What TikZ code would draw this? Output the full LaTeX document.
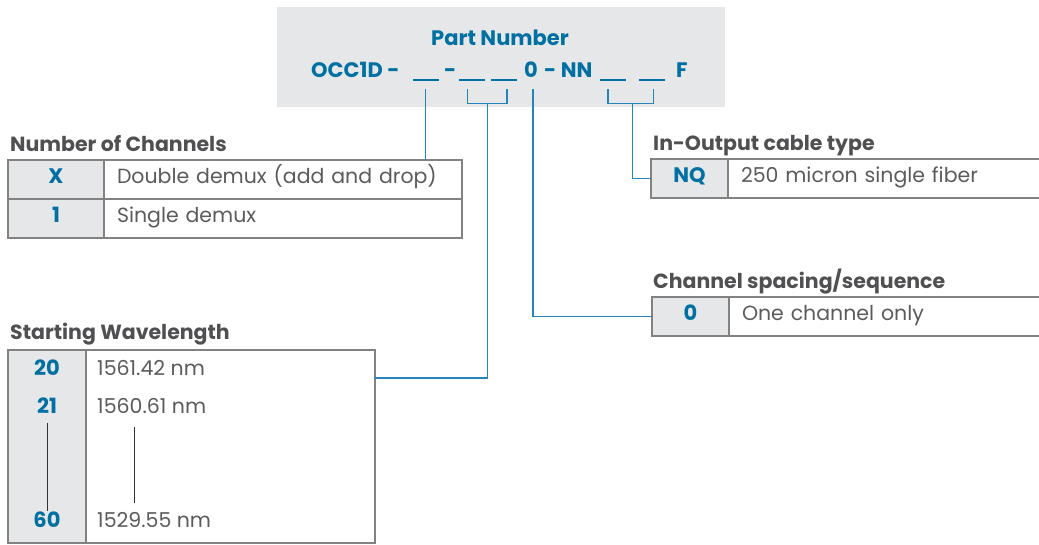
\documentclass[tikz,border=0pt]{standalone}
\usepackage{fontspec}
\setmainfont{Poppins}
\usetikzlibrary{positioning,calc}
\definecolor{pnblue}{RGB}{0,112,163}
\definecolor{linkblue}{RGB}{37,132,187}
\definecolor{txtgray}{RGB}{90,91,93}
\definecolor{headgray}{RGB}{80,80,82}
\definecolor{cellline}{RGB}{130,130,130}
\definecolor{keyfill}{RGB}{230,231,232}

\tikzset{
  head/.style={anchor=base west, inner sep=0, font=\fontsize{20.5}{24}\selectfont\bfseries, text=headgray},
  keycell/.style={draw=cellline, fill=keyfill, line width=1.2, minimum height=39, inner sep=0, outer sep=0,
    text height=0.85em, text depth=0pt, font=\fontsize{21}{24}\selectfont\bfseries, text=pnblue},
  desccell/.style={draw=cellline, line width=1.2, minimum height=39, inner xsep=13, inner ysep=0, outer sep=0,
    text height=0.88em, text depth=0pt, align=left, font=\fontsize{20.5}{24}\selectfont, text=txtgray},
  keytxt/.style={inner xsep=2, inner ysep=8.8, text height=0.78em, text depth=0pt, font=\fontsize{21}{24}\selectfont\bfseries, text=pnblue},
  valtxt/.style={anchor=west, inner sep=0, text height=0.78em, text depth=0pt, font=\fontsize{20.5}{24}\selectfont, text=txtgray},
  blank/.style={fill=pnblue, minimum width=26, minimum height=2.4, inner sep=0, outer sep=0},
  pn/.style={anchor=base west, inner sep=0, font=\fontsize{21}{25}\selectfont\bfseries, text=pnblue},
  conn/.style={draw=linkblue, line width=1.3},
  rule/.style={draw=black!80, line width=0.9},
}

\begin{document}
\begin{tikzpicture}[x=1pt, y=-1pt]
\useasboundingbox (0,0) rectangle (1039,544);

% part number
\fill[keyfill] (277,7) rectangle (725,107);
\node[pn, anchor=base] (pnt) at (500,45) {Part Number};
\node[pn] (occ) at (311,77) {OCC1D -};
\node[blank] (b1) at (425.5,80) {};
\node[pn] (dash) at (444,77) {-};
\node[blank] (b2) at (471.5,80) {};
\node[blank] (b3) at (504,80) {};
\node[pn] (n0) at (524,77) {0};
\node[pn] (nn) at (544,77) {- NN};
\node[blank] (b4) at (613,80) {};
\node[blank] (b5) at (651.5,80) {};
\node[pn] (ff) at (676,77) {F};

% number of channels
\node[head] (hnc) at (10,151) {Number of Channels};
\node[keycell, anchor=north west, minimum width=96] (kx) at (8,160) {X};
\node[desccell, right=0pt of kx, text width=332] (dx) {Double demux (add and drop)};
\node[keycell, below=0pt of kx, minimum width=96] (k1) {1};
\node[desccell, right=0pt of k1, text width=332] (d1) {Single demux};

% in-output cable type
\node[head] (hio) at (653,150) {In-Output cable type};
\node[keycell, anchor=north west, minimum width=77] (kq) at (651,159) {NQ};
\node[desccell, right=0pt of kq, text width=294] (dq) {250 micron single fiber};

% channel spacing
\node[head] (hcs) at (653,288) {Channel spacing/sequence};
\node[keycell, anchor=north west, minimum width=77] (k0) at (652,297) {0};
\node[desccell, right=0pt of k0, text width=294] (d0) {One channel only};

% starting wavelength
\node[head] (hwl) at (10,339) {Starting Wavelength};
\node[keycell, anchor=north west, minimum width=78, minimum height=193] (wlk) at (8,350) {};
\node[desccell, right=0pt of wlk, text width=263, minimum height=193] (wld) {};
\node[keytxt] (k20) at (47,372) {20};
\node[keytxt] (k21) at (47,410) {21};
\node[keytxt] (k60) at (47,524) {60};
\node[valtxt] (v20) at (97,372) {1561.42 nm};
\node[valtxt] (v21) at (97,410) {1560.61 nm};
\node[valtxt] (v60) at (97,524) {1529.55 nm};
\coordinate (vtop) at (134,427);
\coordinate (vbot) at (134,503);
\draw[rule] (k21) -- (k60);
\draw[rule] (vtop) -- (vbot);

% connectors
\draw[conn] ($(b1.south)+(0,8)$) -- (b1.south |- dx.north);
\draw[conn] ($(b2.south west)+(9,8)$) -- ++(0,14) -| ($(b3.south east)+(-10,8)$);
\draw[conn] ($(b2.south west)!0.5!(b3.south east)+(0,22)$) |- ($(wld.north east)+(0,28)$);
\draw[conn] ($(n0.base)+(2,12)$) |- (k0.west);
\draw[conn] ($(b4.south west)+(8,8)$) -- ++(0,14) -| ($(b5.south east)+(-11,8)$);
\draw[conn] ($(b4.south west)!0.5!(b5.south east)+(0,22)$) |- (kq.west);
\end{tikzpicture}
\end{document}
